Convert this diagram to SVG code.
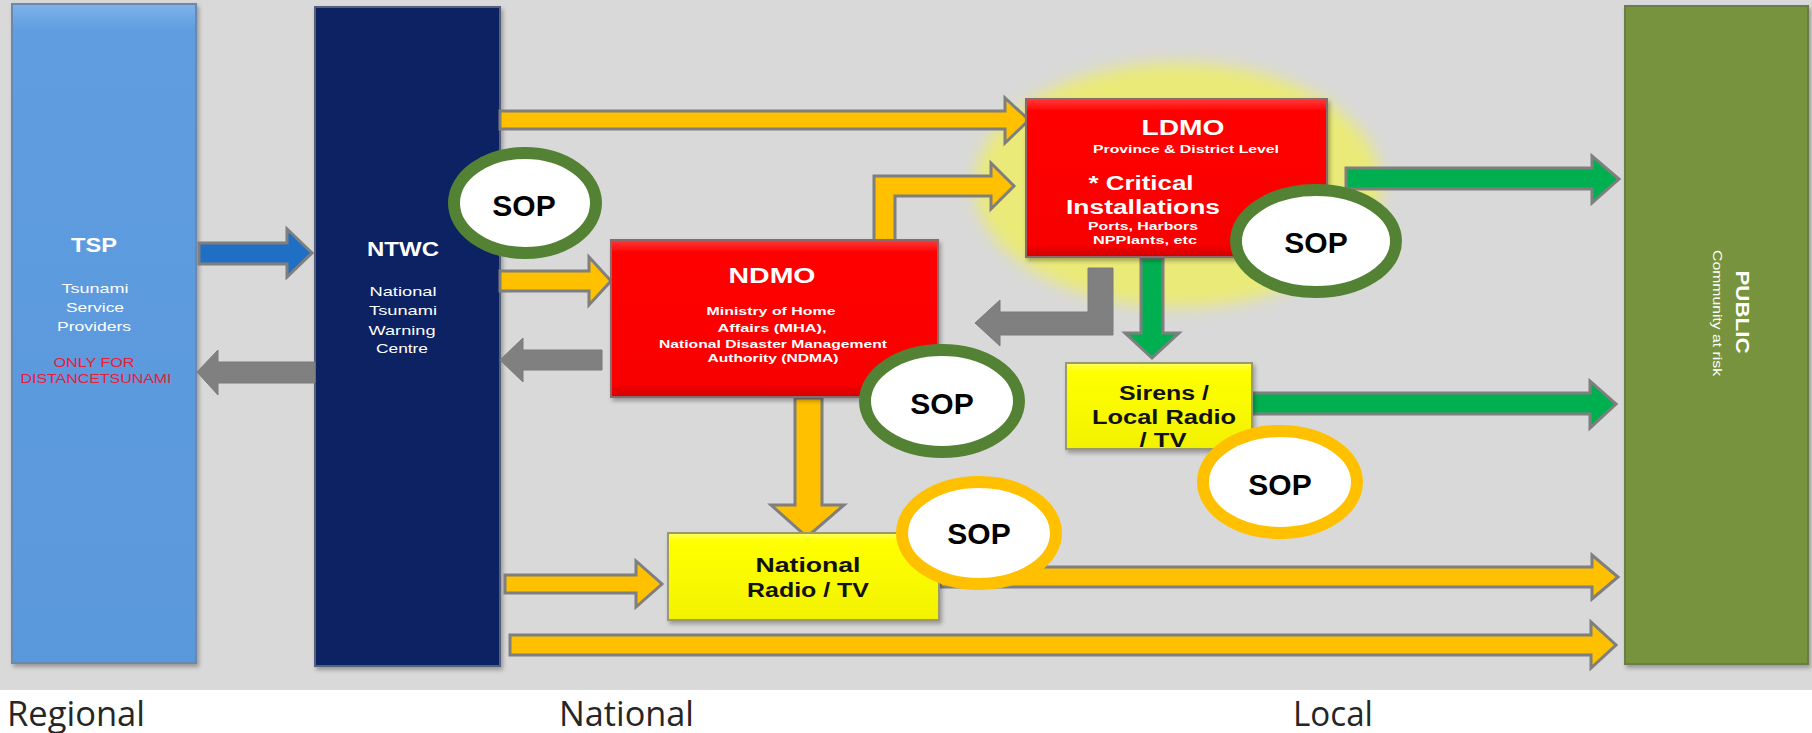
<svg xmlns="http://www.w3.org/2000/svg" width="1812" height="733" viewBox="0 0 1812 733">
<defs>
<style>
.bx{stroke-width:2}
.ttl{font-family:"Liberation Sans",Arial,sans-serif;font-weight:bold;fill:#ffffff;text-anchor:middle}
.sub{font-family:"Liberation Sans",Arial,sans-serif;fill:#ffffff;text-anchor:middle}
.blk{font-family:"Liberation Sans",Arial,sans-serif;font-weight:bold;fill:#111111;text-anchor:middle}
.red{font-family:"Liberation Sans",Arial,sans-serif;fill:#e3203a;text-anchor:middle;font-size:13px}
.sop{font-family:"Liberation Sans",Arial,sans-serif;font-weight:bold;fill:#000000;text-anchor:middle;font-size:30px}
.ring-g{fill:#ffffff;stroke:#548235;stroke-width:12}
.ring-o{fill:#ffffff;stroke:#ffc000;stroke-width:12}
.ay{fill:#ffc000;stroke:#7f7f7f;stroke-width:3;stroke-linejoin:miter}
.ag{fill:#00b050;stroke:#7f7f7f;stroke-width:3}
.ab{fill:#1f6fc5;stroke:#7f7f7f;stroke-width:3}
.agr{fill:#808080;stroke:#7a7a7a;stroke-width:1}
.lvl{font-family:"Open Sans","Liberation Sans",sans-serif;fill:#262626;font-size:34px}
</style>
<linearGradient id="gTsp" x1="0" y1="0" x2="0" y2="1"><stop offset="0" stop-color="#7fb2ea"/><stop offset="0.04" stop-color="#5f9de0"/><stop offset="1" stop-color="#5a98dc"/></linearGradient>
<linearGradient id="gRed" x1="0" y1="0" x2="0" y2="1"><stop offset="0" stop-color="#ff3a3a"/><stop offset="0.08" stop-color="#ff0000"/><stop offset="0.92" stop-color="#f80000"/><stop offset="1" stop-color="#d00000"/></linearGradient>
<linearGradient id="gYel" x1="0" y1="0" x2="0" y2="1"><stop offset="0" stop-color="#ffff60"/><stop offset="0.1" stop-color="#ffff00"/><stop offset="1" stop-color="#f2f200"/></linearGradient>
<filter id="sh" x="-10%" y="-10%" width="130%" height="130%"><feDropShadow dx="2" dy="3" stdDeviation="2" flood-color="#000" flood-opacity="0.3"/></filter>
<filter id="blur" x="-20%" y="-20%" width="140%" height="140%"><feGaussianBlur stdDeviation="8"/></filter>
</defs>

<rect x="0" y="0" width="1812" height="733" fill="#ffffff"/>
<rect x="0" y="0" width="1812" height="690" fill="#d9d9d9"/>

<ellipse id="ldmo-highlight" cx="1178" cy="185" rx="203" ry="122" fill="#eaea78" filter="url(#blur)"/>

<g id="node-tsp">
<rect class="bx" x="12" y="4" width="184" height="659" fill="url(#gTsp)" stroke="#6d88ad" filter="url(#sh)"/>
<text class="ttl" x="94" y="252" font-size="20" textLength="46" lengthAdjust="spacingAndGlyphs">TSP</text>
<text class="sub" x="95" y="293" font-size="13.5" textLength="67" lengthAdjust="spacingAndGlyphs">Tsunami</text>
<text class="sub" x="95" y="312" font-size="13.5" textLength="58" lengthAdjust="spacingAndGlyphs">Service</text>
<text class="sub" x="94" y="331" font-size="13.5" textLength="74" lengthAdjust="spacingAndGlyphs">Providers</text>
<text class="red" x="94" y="367" textLength="81" lengthAdjust="spacingAndGlyphs">ONLY FOR</text>
<text class="red" x="96" y="383" textLength="151" lengthAdjust="spacingAndGlyphs">DISTANCETSUNAMI</text>
</g>

<g id="node-ntwc">
<rect class="bx" x="315" y="7" width="185" height="659" fill="#0b2462" stroke="#55607a" filter="url(#sh)"/>
<text class="ttl" x="403" y="256" font-size="20" textLength="72" lengthAdjust="spacingAndGlyphs">NTWC</text>
<text class="sub" x="403" y="296" font-size="13.5" textLength="67" lengthAdjust="spacingAndGlyphs">National</text>
<text class="sub" x="403" y="315" font-size="13.5" textLength="68" lengthAdjust="spacingAndGlyphs">Tsunami</text>
<text class="sub" x="402" y="335" font-size="13.5" textLength="67" lengthAdjust="spacingAndGlyphs">Warning</text>
<text class="sub" x="402" y="353" font-size="13.5" textLength="52" lengthAdjust="spacingAndGlyphs">Centre</text>
</g>

<g id="node-public">
<rect class="bx" x="1625" y="6" width="183" height="658" fill="#77933c" stroke="#6a7d48" filter="url(#sh)"/>
<text class="ttl" transform="translate(1743,312) rotate(90)" x="0" y="7" font-size="19" textLength="83" lengthAdjust="spacingAndGlyphs">PUBLIC</text>
<text class="sub" transform="translate(1718,313) rotate(90)" x="0" y="5" font-size="13" textLength="126" lengthAdjust="spacingAndGlyphs">Community at risk</text>
</g>

<g id="connectors">
<polygon class="ab" points="199,243 287,243 287,229 312,253 287,277 287,264 199,264"/>
<polygon class="agr" points="315,362 218,362 218,350 197,372 218,395 218,383 315,383"/>
<polygon class="ay" points="500,111 1005,111 1005,98 1029,120 1005,143 1005,129 500,129"/>
<polygon class="ay" points="874,243 874,176 991,176 991,163 1014,186 991,209 991,196 895,196 895,243"/>
<polygon class="ay" points="500,271 589,271 589,257 611,281 589,305 589,291 500,291"/>
<polygon class="agr" points="602,350 523,350 523,338 500,360 523,382 523,370 602,370"/>
<polygon class="agr" points="1113,268 1113,335 1000,335 1000,346 975,323 1000,300 1000,312 1088,312 1088,268"/>
<polygon class="ag" points="1141,258 1163,258 1163,333 1179,333 1152,358 1125,333 1141,333"/>
<polygon class="ag" points="1346,168 1592,168 1592,156 1619,179 1592,203 1592,189 1346,189"/>
<polygon class="ag" points="1252,393 1590,393 1590,381 1616,404 1590,428 1590,414 1252,414"/>
<polygon class="ay" points="795,398 822,398 822,505 844,505 807,537 771,505 795,505"/>
<polygon class="ay" points="505,575 636,575 636,561 662,584 636,607 636,593 505,593"/>
<polygon class="ay" points="940,567 1592,567 1592,555 1618,577 1592,599 1592,587 940,587"/>
<polygon class="ay" points="510,635 1591,635 1591,622 1616,645 1591,668 1591,655 510,655"/>
</g>

<g id="node-ndmo">
<rect class="bx" x="611" y="240" width="327" height="157" fill="url(#gRed)" stroke="#8a6a6a" filter="url(#sh)"/>
<text class="ttl" x="772" y="283" font-size="22" textLength="87" lengthAdjust="spacingAndGlyphs">NDMO</text>
<text class="ttl" x="771" y="315" font-size="11.5" textLength="129" lengthAdjust="spacingAndGlyphs">Ministry of Home</text>
<text class="ttl" x="772" y="332" font-size="11.5" textLength="109" lengthAdjust="spacingAndGlyphs">Affairs (MHA),</text>
<text class="ttl" x="773" y="348" font-size="11.5" textLength="228" lengthAdjust="spacingAndGlyphs">National Disaster Management</text>
<text class="ttl" x="773" y="362" font-size="11.5" textLength="131" lengthAdjust="spacingAndGlyphs">Authority (NDMA)</text>
</g>

<g id="node-ldmo">
<rect class="bx" x="1026" y="99" width="301" height="158" fill="url(#gRed)" stroke="#8a6a6a" filter="url(#sh)"/>
<text class="ttl" x="1183" y="135" font-size="22" textLength="83" lengthAdjust="spacingAndGlyphs">LDMO</text>
<text class="ttl" x="1186" y="153" font-size="11" textLength="186" lengthAdjust="spacingAndGlyphs">Province &amp; District Level</text>
<text class="ttl" x="1141" y="190" font-size="20" textLength="105" lengthAdjust="spacingAndGlyphs">* Critical</text>
<text class="ttl" x="1143" y="214" font-size="20" textLength="154" lengthAdjust="spacingAndGlyphs">Installations</text>
<text class="ttl" x="1143" y="230" font-size="11" textLength="110" lengthAdjust="spacingAndGlyphs">Ports, Harbors</text>
<text class="ttl" x="1145" y="244" font-size="11" textLength="104" lengthAdjust="spacingAndGlyphs">NPPlants, etc</text>
</g>

<g id="node-sirens">
<rect class="bx" x="1066" y="363" width="186" height="86" fill="url(#gYel)" stroke="#9a9a6a" filter="url(#sh)"/>
<text class="blk" x="1164" y="400" font-size="20" textLength="90" lengthAdjust="spacingAndGlyphs">Sirens /</text>
<text class="blk" x="1164" y="424" font-size="20" textLength="144" lengthAdjust="spacingAndGlyphs">Local Radio</text>
<text class="blk" x="1163" y="447" font-size="20" textLength="47" lengthAdjust="spacingAndGlyphs">/ TV</text>
</g>

<g id="node-natradio">
<rect class="bx" x="668" y="533" width="271" height="87" fill="url(#gYel)" stroke="#9a9a6a" filter="url(#sh)"/>
<text class="blk" x="808" y="572" font-size="20" textLength="105" lengthAdjust="spacingAndGlyphs">National</text>
<text class="blk" x="808" y="597" font-size="20" textLength="122" lengthAdjust="spacingAndGlyphs">Radio / TV</text>
</g>

<g id="sop-ntwc"><ellipse class="ring-g" cx="525" cy="203" rx="71" ry="50"/><text class="sop" x="524" y="216">SOP</text></g>
<g id="sop-ndmo"><ellipse class="ring-g" cx="942" cy="401" rx="77" ry="51"/><text class="sop" x="942" y="414">SOP</text></g>
<g id="sop-ldmo"><ellipse class="ring-g" cx="1316" cy="241" rx="80" ry="51"/><text class="sop" x="1316" y="253">SOP</text></g>
<g id="sop-sirens"><ellipse class="ring-o" cx="1280" cy="482" rx="77" ry="51"/><text class="sop" x="1280" y="495">SOP</text></g>
<g id="sop-natradio"><ellipse class="ring-o" cx="979" cy="533" rx="77" ry="51"/><text class="sop" x="979" y="544">SOP</text></g>

<g id="levels">
<text class="lvl" x="7" y="726" textLength="138" lengthAdjust="spacingAndGlyphs">Regional</text>
<text class="lvl" x="559" y="726" textLength="135" lengthAdjust="spacingAndGlyphs">National</text>
<text class="lvl" x="1293" y="726" textLength="80" lengthAdjust="spacingAndGlyphs">Local</text>
</g>
</svg>
